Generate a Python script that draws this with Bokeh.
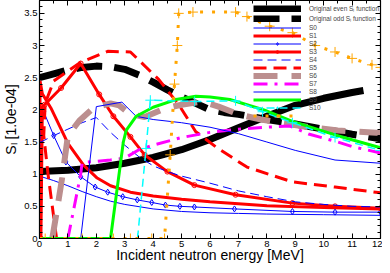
from bokeh.plotting import figure
from bokeh.models import (Range1d, FixedTicker, LinearAxis, Legend, LegendItem,
                          CustomJSTickFormatter)
from bokeh.embed import file_html
from bokeh.resources import INLINE

FONT = "Liberation Sans"

# ---- data ----
even_x = [0, 1, 2, 3, 4, 5, 6, 7, 8, 9, 10, 11, 11.4]
even_y = [1.04, 1.06, 1.1, 1.17, 1.26, 1.38, 1.54, 1.72, 1.9, 2.07, 2.18, 2.27, 2.3]

odd_x = [0, 0.5, 1, 1.5, 2, 2.5, 3, 3.5, 4, 4.5, 5, 5.5, 6, 6.5, 7, 7.5, 8, 9, 10, 11, 12]
odd_y = [2.5, 2.56, 2.62, 2.66, 2.68, 2.67, 2.63, 2.54, 2.43, 2.31, 2.2, 2.1, 2.0, 1.96,
         1.93, 1.89, 1.85, 1.78, 1.7, 1.62, 1.55]

s0_x = [0, 0.5, 1, 1.5, 2, 2.5, 3, 4, 5, 6, 7, 8, 10, 12]
s0_y = [0.97, 0.9, 0.82, 0.73, 0.65, 0.58, 0.53, 0.46, 0.42, 0.4, 0.39, 0.38, 0.37, 0.36]

s1_x = [0, 0.02, 0.1, 0.4, 0.76, 1.0, 1.55, 2.03, 2.5, 3.2, 4, 5, 6, 7, 8, 10, 12]
s1_y = [0, 2.45, 2.25, 2.03, 1.7, 1.48, 1.14, 0.94, 0.82, 0.72, 0.66, 0.61, 0.57, 0.54,
        0.51, 0.48, 0.46]

s2_x = [0, 0.15, 0.5, 0.93, 1.45, 1.96, 2.4, 2.93, 3.44, 3.95, 4.43, 4.94, 5.45, 6.86,
        8.9, 10.4, 12]
s2_y = [1.47, 1.97, 1.6, 1.19, 0.96, 0.8, 0.72, 0.65, 0.6, 0.56, 0.52, 0.5, 0.49, 0.46,
        0.42, 0.41, 0.41]

s3_x = [0.05, 0.1, 0.18, 0.76, 1.45, 2.1, 2.6, 3.2, 3.7, 4.5, 5.45, 6.9, 8.9, 10.4, 12]
s3_y = [0, 2.05, 2.08, 2.34, 2.72, 2.24, 1.9, 1.58, 1.3, 1.04, 0.83, 0.68, 0.55, 0.5, 0.47]

s4_x = [0, 0.5, 1, 1.5, 2, 2.5, 3, 3.5, 4, 4.5, 5, 6, 7, 8, 9, 10, 11, 12]
s4_y = [1.49, 1.6, 1.7, 1.8, 1.88, 1.65, 1.45, 1.27, 1.13, 1.04, 0.97, 0.86, 0.74, 0.65,
        0.57, 0.53, 0.5, 0.49]

s5_x = [0.6, 0.3, 0.15, 0.2, 0.5, 1.45, 2.4, 3.2, 4.2, 4.9, 5.5, 6.25, 7.3, 8.9, 10.4, 12]
s5_y = [0, 1.0, 1.6, 2.1, 2.45, 2.74, 2.91, 2.9, 2.47, 2.08, 1.66, 1.41, 1.11, 0.88, 0.8,
        0.71]

s6_x = [0.45, 0.6, 0.8, 1.0, 1.4, 1.9, 2.5, 2.8, 3.2, 3.7, 4.4, 5, 5.7, 6.3, 7, 7.8, 8.5,
        9.5, 10.5, 12]
s6_y = [0, 0.4, 0.95, 1.6, 1.83, 2.03, 2.1, 2.07, 1.93, 1.89, 2.02, 2.08, 2.13, 2.05, 1.93,
        1.85, 1.8, 1.73, 1.68, 1.64]

s7_x = [1.0, 1.45, 1.5, 2, 2.5, 3, 3.5, 4, 5, 6, 7, 8, 8.8, 9.5, 10.5, 11, 12]
s7_y = [0, 1.0, 1.18, 1.2, 1.22, 1.25, 1.38, 1.45, 1.57, 1.65, 1.7, 1.73, 1.75, 1.62, 1.5,
        1.43, 1.33]

s8_x = [1.45, 2.0, 2.9, 3.4, 4, 5, 6, 7, 8, 9, 10.4, 12]
s8_y = [0, 2.05, 2.12, 1.9, 1.85, 1.8, 1.73, 1.63, 1.5, 1.37, 1.22, 1.17]

s9_x = [0, 2.5, 2.95, 3.05, 3.4, 4, 4.8, 5.5, 6, 6.7, 7.3, 7.9, 8.9, 10.4, 12]
s9_y = [0, 0, 1.5, 1.68, 1.9, 2.04, 2.16, 2.21, 2.2, 2.16, 2.08, 2.0, 1.82, 1.61, 1.41]

s10_x = [3.45, 3.75, 3.9, 5.46, 6.9, 7.85, 8.9, 10.4, 12]
s10_y = [0, 1.4, 2.15, 2.13, 2.14, 1.97, 1.8, 1.57, 1.37]

s11_x = [0, 0.2, 1.5, 2.6, 3.2, 3.95, 4.4, 4.6, 4.75, 4.85, 4.9, 5.4, 6.9, 7.3, 8.1, 8.9,
         9.7, 10.4, 11.0, 11.7, 12]
s11_y = [0, 0, 0, 0, 0, 0, 0, 1.3, 2.4, 3.0, 3.5, 3.52, 3.52, 3.45, 3.3, 3.2, 3.0, 2.9,
         2.8, 2.7, 2.66]

x_ticks = list(range(13))
x_minor = [i * 0.5 for i in range(25)]
y_ticks = [i * 0.5 for i in range(8)]
y_minor = [round(i * 0.1, 1) for i in range(37)]

p = figure(width=382, height=265, output_backend="svg", toolbar_location=None,
           x_range=Range1d(0, 12), y_range=Range1d(0, 3.7),
           min_border_left=0, min_border_right=2, min_border_top=0, min_border_bottom=0,
           x_axis_label="Incident neutron energy [MeV]", y_axis_label="Sₗ [1.0e-04]")
p.xgrid.visible = False
p.ygrid.visible = False
p.outline_line_color = "black"
p.outline_line_width = 1.2

RED = "#ff0000"
BLUE = "#0000ff"

r_even = p.line(even_x, even_y, line_color="black", line_width=7)
r_odd = p.line(odd_x, odd_y, line_color="black", line_width=7, line_dash="26 12")
r0 = p.line(s0_x, s0_y, line_color=BLUE, line_width=1)
r1 = p.line(s1_x, s1_y, line_color=RED, line_width=3)
r2 = p.line(s2_x, s2_y, line_color=BLUE, line_width=1)
r2m = p.scatter(s2_x, s2_y, marker="diamond", size=6, fill_color=None, line_color=BLUE,
                line_width=1)
r3 = p.line(s3_x, s3_y, line_color=RED, line_width=3)
r3m = p.scatter(s3_x, s3_y, marker="circle", size=5, fill_color=None, line_color=RED,
                line_width=1)
r4 = p.line(s4_x, s4_y, line_color=BLUE, line_width=1, line_dash="9 5")
r5 = p.line(s5_x, s5_y, line_color=RED, line_width=3, line_dash="13 7")
r6 = p.line(s6_x, s6_y, line_color="#bc8f8f", line_width=6, line_dash="24 14")
r7 = p.line(s7_x, s7_y, line_color="#ff00ff", line_width=3, line_dash="14 7 3 7")
r8 = p.line(s8_x, s8_y, line_color=BLUE, line_width=1)
r9 = p.line(s9_x, s9_y, line_color="#00ff00", line_width=3)
r10 = p.line(s10_x, s10_y, line_color="#00ffff", line_width=1.5, line_dash="8 5")
r10m = p.scatter(s10_x, s10_y, marker="cross", size=10, line_color="#00ffff", line_width=1)
r11 = p.line(s11_x, s11_y, line_color="#ffa500", line_width=3, line_dash="3 9")
r11m = p.scatter(s11_x, s11_y, marker="cross", size=10, line_color="#ffa500", line_width=1)

legend = Legend(items=[
    LegendItem(label="Original even Sₗ function", renderers=[r_even]),
    LegendItem(label="Original odd Sₗ function", renderers=[r_odd]),
    LegendItem(label="S0", renderers=[r0]),
    LegendItem(label="S1", renderers=[r1]),
    LegendItem(label="S2", renderers=[r2, r2m]),
    LegendItem(label="S3", renderers=[r3, r3m]),
    LegendItem(label="S4", renderers=[r4]),
    LegendItem(label="S5", renderers=[r5]),
    LegendItem(label="S6", renderers=[r6]),
    LegendItem(label="S7", renderers=[r7]),
    LegendItem(label="S8", renderers=[r8]),
    LegendItem(label="S9", renderers=[r9]),
    LegendItem(label="S10", renderers=[r10, r10m]),
    LegendItem(label=" ", renderers=[r11, r11m]),
], location=(214, 119), orientation="vertical")
legend.label_text_font = FONT
legend.label_text_font_size = "6.5px"
legend.glyph_width = 48
legend.glyph_height = 7
legend.label_height = 7
legend.spacing = 1
legend.padding = 0
legend.margin = 0
legend.label_standoff = 8
legend.background_fill_alpha = 0
legend.border_line_alpha = 0
p.add_layout(legend)

ylab_fmt = CustomJSTickFormatter(code="return String(Math.round(tick*10)/10);")

for ax in p.xaxis:
    ax.ticker = FixedTicker(ticks=x_ticks, minor_ticks=x_minor)
for ax in p.yaxis:
    ax.ticker = FixedTicker(ticks=y_ticks, minor_ticks=y_minor)
    ax.formatter = ylab_fmt

for ax in list(p.xaxis) + list(p.yaxis):
    ax.major_tick_in = 5
    ax.major_tick_out = 0
    ax.minor_tick_in = 3
    ax.minor_tick_out = 0
    ax.axis_line_color = "black"
    ax.major_tick_line_color = "black"
    ax.minor_tick_line_color = "black"
    ax.major_label_text_font = FONT
    ax.major_label_text_font_size = "9.5px"
    ax.major_label_text_color = "black"
    ax.major_label_standoff = 2
    ax.axis_label_text_font = FONT
    ax.axis_label_text_font_size = "14px"
    ax.axis_label_text_font_style = "normal"
    ax.axis_label_text_color = "black"
    ax.axis_label_standoff = 2

for ax in p.xaxis:
    ax.major_label_standoff = 2
    ax.axis_label_standoff = -3

top = LinearAxis(ticker=FixedTicker(ticks=x_ticks, minor_ticks=x_minor),
                 major_label_text_font_size="1px", major_label_text_color=None,
                 major_tick_in=5, major_tick_out=0,
                 minor_tick_in=3, minor_tick_out=0, major_label_standoff=0)
right = LinearAxis(ticker=FixedTicker(ticks=y_ticks, minor_ticks=y_minor),
                   major_label_text_font_size="1px", major_label_text_color=None,
                   major_tick_in=5, major_tick_out=0,
                   minor_tick_in=3, minor_tick_out=0, major_label_standoff=0)
p.add_layout(top, "above")
p.add_layout(right, "right")

open("out.html", "w").write(file_html(p, INLINE))
